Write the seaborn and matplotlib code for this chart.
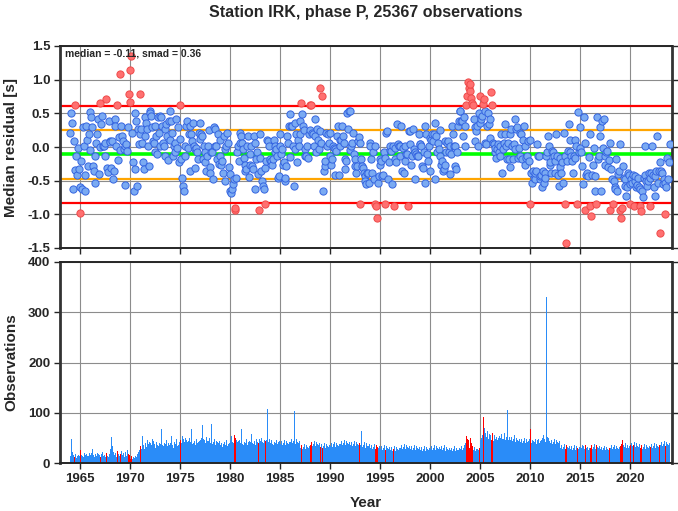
import numpy as np
import pandas as pd
import seaborn as sns
import matplotlib
matplotlib.use("Agg")
import matplotlib.pyplot as plt

# station summary (from the panel annotation)
MEDIAN = -0.11
SMAD = 0.36
TITLE = "Station IRK, phase P, 25367 observations"

# monthly median residuals [s], Jan 1964 .. Dec 2023, one list per decade
res_1960s = [
    0.21, 0.50, 0.35, -0.62, 0.09, 0.63, -0.34, -0.13, -0.41, -0.01, -0.33, -0.60,
    -0.98, -0.21, -0.63, 0.29, 0.01, -0.41, -0.65, 0.31, 0.11, -0.28, 0.20, -0.05,
    0.52, 0.44, 0.29, -0.28, -0.36, -0.54, -0.13, 0.06, 0.20, 0.41, -0.40, 0.00,
    0.65, 0.34, 0.46, 0.01, 0.01, 0.06, -0.13, 0.72, -0.31, -0.37, 0.39, 0.09,
    0.07, -0.31, 0.09, -0.48, -0.36, 0.42, 0.31, 0.01, 0.63, -0.20, 0.15, -0.05,
    1.09, 0.31, 0.16, 0.09, -0.03, -0.57, 0.01, 0.04, -0.06, 0.30, 0.78, 0.67,
]
res_1970s = [
    1.14, 1.35, 0.21, -0.23, -0.65, -0.32, 0.51, 0.39, -0.58, 0.26, 0.05, 0.20,
    0.78, 0.26, 0.06, -0.23, -0.33, 0.16, 0.44, 0.36, 0.26, 0.01, -0.28, 0.53,
    0.51, 0.46, 0.29, 0.09, 0.06, -0.08, 0.31, 0.16, -0.11, 0.44, 0.21, 0.01,
    0.46, 0.44, 0.31, 0.06, 0.01, -0.13, 0.26, 0.34, 0.16, -0.20, 0.38, 0.10,
    0.53, 0.39, 0.21, -0.13, 0.01, -0.08, 0.06, 0.41, -0.01, 0.30, -0.22, 0.12,
    0.62, -0.18, -0.46, -0.58, -0.65, 0.01, -0.13, 0.31, 0.39, -0.01, 0.20, -0.35,
    0.31, 0.19, 0.09, 0.36, 0.01, -0.31, -0.03, -0.01, -0.08, -0.18, 0.21, 0.12,
    0.36, 0.19, 0.16, -0.18, 0.01, -0.23, -0.08, -0.36, -0.13, 0.01, 0.25, -0.30,
    -0.38, -0.08, -0.08, -0.48, 0.29, 0.26, 0.01, 0.01, -0.18, 0.19, -0.25, 0.10,
    -0.13, -0.26, -0.21, -0.38, 0.16, -0.50, -0.03, 0.01, 0.21, 0.06, -0.30, -0.40,
]
res_1980s = [
    -0.65, -0.68, -0.63, -0.55, -0.48, -0.93, -0.90, -0.46, -0.08, 0.01, -0.21, 0.21,
    0.06, 0.16, 0.06, -0.03, -0.16, -0.36, -0.26, -0.33, 0.01, 0.16, -0.45, -0.10,
    -0.26, 0.01, -0.28, -0.33, 0.16, 0.06, -0.63, -0.18, -0.08, -0.40, -0.94, 0.20,
    -0.16, -0.36, -0.50, -0.58, -0.63, -0.31, -0.85, -0.21, 0.11, 0.09, 0.01, -0.20,
    -0.18, -0.21, -0.26, -0.18, 0.11, -0.08, 0.01, -0.03, -0.13, -0.46, -0.43, 0.20,
    0.01, -0.11, -0.03, -0.26, -0.23, -0.50, -0.46, -0.28, 0.16, 0.06, 0.31, -0.15,
    0.49, 0.31, 0.31, 0.01, -0.58, -0.03, 0.36, 0.20, -0.23, 0.10, 0.01, 0.20,
    0.39, 0.65, 0.49, 0.31, 0.25, -0.03, -0.13, -0.13, 0.01, -0.16, 0.19, 0.25,
    0.62, 0.63, 0.21, 0.19, 0.01, 0.41, 0.16, -0.08, 0.26, 0.11, -0.03, 0.24,
    0.88, 0.06, 0.75, -0.65, -0.36, -0.28, -0.21, 0.21, 0.01, 0.19, 0.06, 0.21,
]
res_1990s = [
    -0.13, -0.26, -0.18, 0.01, -0.01, -0.41, -0.03, -0.06, 0.16, 0.31, -0.41, 0.10,
    0.01, 0.11, 0.31, 0.16, 0.06, -0.18, -0.33, -0.21, 0.51, 0.26, 0.53, -0.05,
    0.53, 0.01, 0.06, 0.21, -0.10, -0.18, -0.28, -0.38, -0.28, 0.09, 0.15, -0.85,
    0.06, -0.18, -0.28, -0.31, -0.38, -0.43, -0.50, -0.55, -0.38, -0.38, -0.53, 0.06,
    0.01, -0.18, -0.38, -0.08, -0.48, 0.01, -0.85, -0.87, -1.05, -0.53, -0.43, -0.26,
    -0.18, -0.21, -0.43, -0.41, -0.08, -0.16, -0.84, 0.21, 0.24, -0.48, -0.23, -0.05,
    0.01, -0.06, -0.55, 0.01, -0.88, -0.01, -0.18, -0.23, 0.34, 0.04, 0.01, -0.13,
    0.01, 0.31, -0.36, -0.01, -0.38, -0.21, 0.01, -0.11, -0.11, -0.88, 0.24, 0.04,
    0.24, -0.26, -0.13, 0.26, -0.03, -0.08, -0.48, -0.11, -0.13, -0.13, 0.19, 0.05,
    0.04, 0.01, -0.28, -0.31, -0.08, -0.53, 0.31, 0.19, -0.11, -0.21, 0.01, -0.35,
]
res_2000s = [
    0.14, 0.11, 0.19, 0.09, 0.19, 0.36, -0.48, 0.16, -0.08, 0.06, -0.03, 0.25,
    -0.13, -0.26, -0.21, -0.36, -0.33, -0.26, 0.09, -0.08, 0.06, 0.09, -0.08, -0.40,
    0.01, -0.11, 0.31, 0.19, 0.01, 0.01, -0.28, -0.33, -0.08, 0.31, 0.39, 0.53,
    0.53, 0.39, 0.39, 0.16, 0.44, 0.31, 0.01, 0.63, 0.76, 0.96, 0.88, 0.83,
    0.93, 0.73, 0.65, 0.62, 0.41, 0.29, 0.09, 0.24, 0.31, 0.01, 0.51, 0.75,
    0.36, 0.41, 0.46, 0.64, 0.71, 0.53, 0.06, 0.04, 0.31, 0.51, 0.34, 0.41,
    0.14, 0.82, 0.62, 0.06, 0.04, -0.08, -0.01, -0.16, -0.03, 0.04, -0.08, -0.13,
    0.01, 0.19, -0.38, -0.03, 0.06, 0.34, 0.19, 0.01, -0.18, 0.06, -0.18, -0.30,
    0.19, 0.26, 0.01, -0.18, 0.04, 0.41, -0.03, 0.26, 0.29, -0.16, -0.01, -0.13,
    0.21, 0.19, -0.18, 0.11, 0.31, 0.01, -0.26, -0.16, -0.13, 0.09, -0.21, 0.10,
]
res_2010s = [
    -0.84, -0.38, -0.53, -0.36, -0.46, -0.48, -0.38, -0.36, 0.04, -0.13, -0.13, -0.48,
    -0.43, -0.41, -0.60, -0.36, -0.53, -0.38, -0.46, -0.13, -0.08, 0.16, 0.01, -0.26,
    -0.23, -0.38, -0.06, -0.08, -0.13, -0.38, -0.21, 0.19, -0.13, -0.41, -0.58, -0.30,
    -0.16, -0.38, -0.23, -0.53, 0.21, -0.13, -0.84, -1.42, -0.21, -0.06, 0.34, -0.08,
    0.11, -0.13, -0.21, -0.38, -0.13, 0.11, -0.16, 0.01, -0.84, 0.52, -0.08, 0.30,
    -0.01, -0.08, -0.28, -0.55, 0.44, 0.06, -0.93, -0.41, -0.38, -0.43, -0.15, 0.20,
    -0.88, -1.03, -0.41, -0.26, -0.01, -0.43, -0.65, -0.84, 0.44, -0.18, -0.13, 0.29,
    0.16, -0.65, 0.39, -0.01, 0.41, -0.26, -0.13, -0.08, -0.06, -0.30, -0.20, -0.93,
    0.06, -0.33, -0.48, -0.84, -0.50, -0.60, -0.63, -0.18, -0.66, -0.40, -0.35, 0.05,
    -0.93, -1.06, -0.90, -0.28, -0.46, -0.48, -0.58, -0.73, -0.60, -0.38, -0.41, -0.55,
]
res_2020s = [
    -0.84, -0.48, -0.53, -0.41, -0.88, -0.50, -0.43, -0.60, -0.56, -0.46, -0.60, -0.62,
    -0.88, -0.95, -0.65, -0.75, -0.46, -0.41, 0.01, -0.50, -0.58, -0.51, -0.38, -0.46,
    -0.88, -0.38, 0.01, -0.41, -0.60, -0.43, -0.73, -0.36, 0.16, -0.53, -0.36, -1.27,
    -0.23, -0.36, -0.38, -0.55, -0.48, -0.53, -1.00, -0.60, -0.16, -0.48, -0.23, 0.04,
]

# monthly number of observations, same months
obs_1960s = [
    14, 48, 22, 13, 15, 12, 18, 10, 14, 12, 16, 13,
    25, 16, 14, 18, 12, 20, 15, 17, 13, 22, 14, 19,
    15, 20, 27, 13, 16, 12, 18, 14, 20, 11, 17, 15,
    12, 18, 22, 10, 14, 16, 11, 19, 13, 15, 12, 17,
    27, 52, 33, 18, 22, 15, 20, 12, 24, 16, 18, 14,
    17, 23, 15, 30, 19, 12, 21, 14, 25, 13, 18, 16,
]
obs_1970s = [
    7, 13, 8, 10, 12, 9, 14, 11, 18, 20, 22, 25,
    33, 27, 53, 30, 36, 28, 40, 32, 45, 30, 38, 42,
    40, 35, 47, 33, 44, 38, 30, 42, 36, 48, 34, 40,
    38, 67, 35, 43, 33, 40, 37, 45, 34, 41, 39, 36,
    40, 53, 35, 45, 30, 42, 38, 48, 33, 44, 36, 41,
    46, 40, 53, 44, 48, 42, 50, 45, 41, 47, 43, 49,
    42, 67, 38, 46, 40, 44, 36, 48, 39, 45, 41, 43,
    45, 50, 75, 42, 48, 46, 40, 52, 44, 47, 43, 49,
    40, 77, 38, 45, 42, 48, 36, 44, 41, 46, 39, 43,
    35, 40, 32, 44, 38, 42, 36, 46, 34, 41, 37, 39,
]
obs_1980s = [
    45, 53, 42, 48, 40, 55, 50, 46, 41, 47, 43, 45,
    40, 67, 38, 45, 36, 42, 39, 47, 35, 43, 41, 44,
    42, 57, 40, 46, 38, 44, 36, 48, 41, 45, 39, 47,
    44, 50, 42, 48, 40, 46, 43, 45, 107, 49, 41, 47,
    40, 45, 38, 44, 36, 42, 39, 46, 37, 43, 41, 44,
    38, 44, 36, 42, 40, 46, 35, 43, 39, 45, 37, 41,
    42, 48, 40, 46, 44, 103, 38, 47, 41, 45, 39, 43,
    30, 36, 28, 34, 32, 38, 27, 35, 31, 37, 29, 33,
    36, 42, 34, 40, 38, 44, 33, 41, 37, 43, 35, 39,
    32, 38, 30, 36, 34, 40, 29, 37, 33, 39, 31, 35,
]
obs_1990s = [
    34, 40, 32, 36, 38, 42, 31, 39, 35, 70, 33, 37,
    38, 44, 36, 42, 40, 46, 35, 43, 39, 45, 37, 41,
    36, 42, 34, 40, 38, 44, 33, 41, 37, 43, 35, 39,
    35, 63, 32, 38, 36, 42, 30, 40, 34, 41, 33, 37,
    30, 36, 28, 34, 32, 38, 27, 35, 31, 37, 29, 33,
    28, 34, 26, 32, 30, 36, 25, 33, 29, 35, 27, 31,
    26, 32, 24, 30, 28, 34, 23, 31, 27, 33, 25, 29,
    30, 36, 28, 34, 32, 38, 27, 35, 31, 70, 29, 33,
    28, 34, 26, 32, 30, 36, 25, 33, 29, 35, 27, 31,
    26, 32, 24, 30, 28, 34, 23, 31, 27, 33, 25, 29,
]
obs_2000s = [
    28, 34, 26, 32, 30, 36, 25, 33, 29, 35, 27, 31,
    27, 33, 25, 31, 29, 35, 24, 32, 28, 34, 26, 30,
    26, 30, 24, 28, 27, 33, 23, 30, 26, 32, 25, 29,
    28, 34, 26, 32, 30, 36, 40, 53, 47, 50, 45, 30,
    50, 40, 33, 30, 26, 32, 24, 28, 27, 30, 25, 30,
    45, 50, 55, 63, 91, 70, 60, 52, 64, 50, 47, 58,
    55, 45, 60, 50, 43, 56, 48, 52, 46, 62, 49, 53,
    50, 58, 47, 55, 48, 60, 45, 52, 105, 57, 46, 51,
    45, 52, 43, 50, 47, 55, 42, 49, 46, 53, 44, 48,
    42, 48, 40, 46, 44, 50, 39, 47, 41, 45, 43, 47,
]
obs_2010s = [
    68, 40, 46, 38, 44, 42, 48, 37, 45, 41, 47, 39,
    43, 45, 50, 48, 55, 47, 42, 330, 52, 45, 49, 44,
    40, 46, 38, 44, 42, 48, 37, 45, 41, 56, 39, 43,
    30, 36, 28, 34, 32, 38, 27, 35, 31, 37, 29, 33,
    28, 34, 26, 32, 30, 36, 25, 33, 29, 35, 27, 31,
    32, 30, 35, 28, 33, 27, 36, 29, 31, 34, 26, 30,
    30, 36, 28, 34, 32, 38, 27, 35, 31, 37, 29, 33,
    28, 32, 26, 30, 29, 34, 25, 31, 27, 33, 26, 30,
    30, 35, 28, 33, 31, 36, 27, 34, 29, 35, 28, 32,
    33, 38, 45, 31, 36, 32, 40, 30, 35, 39, 29, 34,
]
obs_2020s = [
    35, 40, 33, 38, 36, 42, 31, 39, 34, 41, 32, 37,
    30, 36, 28, 34, 32, 38, 27, 35, 31, 37, 29, 33,
    32, 38, 30, 36, 34, 40, 29, 37, 33, 39, 31, 35,
    36, 42, 34, 54, 38, 44, 33, 41, 37, 52, 35, 39,
]

FIRST_YEAR = 1964
year_ticks = [1965, 1970, 1975, 1980, 1985, 1990, 1995, 2000, 2005, 2010, 2015, 2020]

resid = res_1960s + res_1970s + res_1980s + res_1990s + res_2000s + res_2010s + res_2020s
nobs = obs_1960s + obs_1970s + obs_1980s + obs_1990s + obs_2000s + obs_2010s + obs_2020s

df = pd.DataFrame({"resid": resid, "nobs": nobs})
df["t"] = FIRST_YEAR + (np.arange(len(df)) + 0.5) / 12.0
df["outlier"] = (df["resid"] - MEDIAN).abs() > 2 * SMAD

sns.set_style("ticks")
plt.rcParams["font.family"] = ["Liberation Sans", "DejaVu Sans"]
plt.rcParams["font.weight"] = "bold"

fig = plt.figure(figsize=(6.78, 5.11), dpi=100)
W, H = 678.0, 511.0
ax1 = fig.add_axes([60 / W, 1 - 248 / H, 612 / W, 202 / H])
ax2 = fig.add_axes([60 / W, 1 - 463 / H, 612 / W, 201 / H])

grid_kw = dict(color="#8c8c8c", lw=0.8, zorder=0)

for ax in (ax1, ax2):
    ax.set_xlim(1963.0, 2024.2)
    ax.set_xticks(year_ticks)
    ax.grid(True, **grid_kw)
    ax.set_axisbelow(True)
    for side in ("top", "bottom"):
        ax.spines[side].set_linewidth(1.4)
    for side in ("left", "right"):
        ax.spines[side].set_linewidth(2.0)
        ax.spines[side].set_color("#333333")
    ax.tick_params(direction="out", length=4, width=1, labelsize=9.5, pad=3,
                   right=True)

# --- top panel: residuals
ax1.set_ylim(-1.5, 1.5)
ax1.set_yticks([1.5, 1.0, 0.5, 0.0, -0.5, -1.0, -1.5])
ax1.set_yticklabels(["1.5", "1.0", "0.5", "0.0", "-0.5", "-1.0", "-1.5"])
ax1.tick_params(axis="x", labelbottom=False)

ax1.axhline(MEDIAN + 2 * SMAD, color="#ff0000", lw=1.6, zorder=1)
ax1.axhline(MEDIAN - 2 * SMAD, color="#ff0000", lw=1.6, zorder=1)
ax1.axhline(MEDIAN + SMAD, color="#ffa500", lw=1.6, zorder=1)
ax1.axhline(MEDIAN - SMAD, color="#ffa500", lw=1.6, zorder=1)
ax1.axhline(MEDIAN, color="#00ff00", lw=2.6, zorder=1)

sns.scatterplot(data=df[~df["outlier"]], x="t", y="resid", ax=ax1, s=27,
                color="#7aaaf2", edgecolor="#3565e0", linewidth=0.7, zorder=3)
sns.scatterplot(data=df[df["outlier"]], x="t", y="resid", ax=ax1, s=27,
                color="#ff7070", edgecolor="#ee4a4a", linewidth=0.7, zorder=3)
ax1.set_xlabel("")
ax1.set_ylabel("")
ax1.text(0.008, 0.965, f"median = {MEDIAN:.2f}, smad = {SMAD:.2f}",
         transform=ax1.transAxes, ha="left", va="center", fontsize=7.5,
         fontweight="bold", zorder=5)

# --- bottom panel: observation counts
sns.histplot(data=df, x="t", weights="nobs", hue="outlier",
             palette={False: "#2a8cf8", True: "#ff0000"},
             binwidth=1 / 12, binrange=(FIRST_YEAR, FIRST_YEAR + len(df) / 12),
             element="bars", fill=True, alpha=1, linewidth=0, legend=False,
             ax=ax2, zorder=2)
ax2.set_ylim(0, 400)
ax2.set_yticks([0, 100, 200, 300, 400])
ax2.set_xlabel("")
ax2.set_ylabel("")

fig.text(366 / W, 1 - 13 / H, TITLE, ha="center", va="center",
         fontsize=11.5, fontweight="bold")
fig.text(11 / W, 1 - 147 / H, "Median residual [s]", rotation=90,
         ha="center", va="center", fontsize=11, fontweight="bold")
fig.text(11 / W, 1 - 362 / H, "Observations", rotation=90,
         ha="center", va="center", fontsize=11, fontweight="bold")
fig.text(366 / W, 1 - 503 / H, "Year", ha="center", va="center",
         fontsize=11, fontweight="bold")

fig.savefig("out.png", dpi=100)
